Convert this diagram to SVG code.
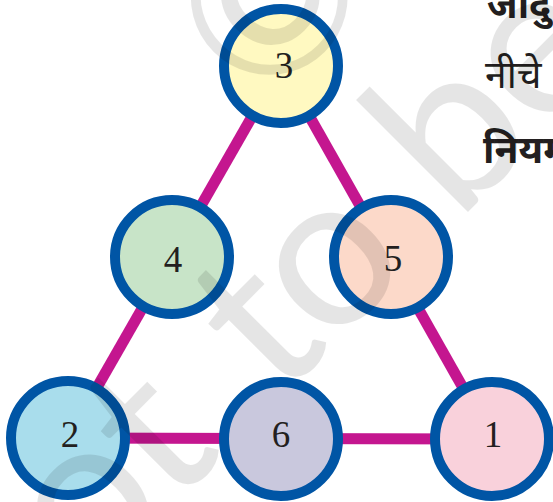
<svg xmlns="http://www.w3.org/2000/svg" width="553" height="502" viewBox="0 0 553 502">
<style>
.node circle{stroke:#0055A5;stroke-width:10}
.node text{font-family:"Liberation Serif","DejaVu Serif",serif;font-size:37px;fill:#231F20;text-anchor:middle}
.edge{stroke:#C4168F;stroke-width:11;fill:none}
.hi{font-family:"Noto Sans Devanagari","Noto Sans","DejaVu Sans",sans-serif;font-size:39px;fill:#231F20}
.wm{font-family:Lato,"Open Sans","Liberation Sans",sans-serif;font-weight:400;font-size:215px;fill:#000;fill-opacity:0.1}
</style>
<rect width="553" height="502" fill="#fff"/>
<g id="connectors">
<line class="edge" x1="281" y1="66" x2="68" y2="438"/>
<line class="edge" x1="281" y1="66" x2="492" y2="439"/>
<line class="edge" x1="68" y1="438" x2="492" y2="439"/>
</g>
<g id="n3" class="node"><circle cx="281" cy="66" r="57" fill="#FFF9C1"/><text x="284" y="78">3</text></g>
<g id="n4" class="node"><circle cx="172" cy="257" r="57" fill="#C8E4C8"/><text x="173" y="272">4</text></g>
<g id="n5" class="node"><circle cx="391" cy="257" r="57" fill="#FCD9C9"/><text x="393" y="271">5</text></g>
<g id="n2" class="node"><circle cx="68" cy="438" r="57" fill="#A9DDEC"/><text x="70" y="447">2</text></g>
<g id="n6" class="node"><circle cx="281" cy="439" r="57" fill="#C9C8DD"/><text x="281" y="447">6</text></g>
<g id="n1" class="node"><circle cx="492" cy="439" r="57" fill="#F9D1DB"/><text x="493" y="447">1</text></g>
<g id="side-text">
<text class="hi" x="487" y="18" font-weight="bold">जादु</text>
<text class="hi" x="485" y="88">नीचे</text>
<text class="hi" x="483" y="163" font-weight="bold">नियम</text>
</g>
<g id="watermark">
<text class="wm" transform="translate(371,309) rotate(-45)" x="-520 -400 -282 -210 -130 -58 57 122 242" y="0">not to be</text>
<text class="wm" transform="translate(265,-8) rotate(-45)" text-anchor="middle" dominant-baseline="central">©</text>
</g>
</svg>
